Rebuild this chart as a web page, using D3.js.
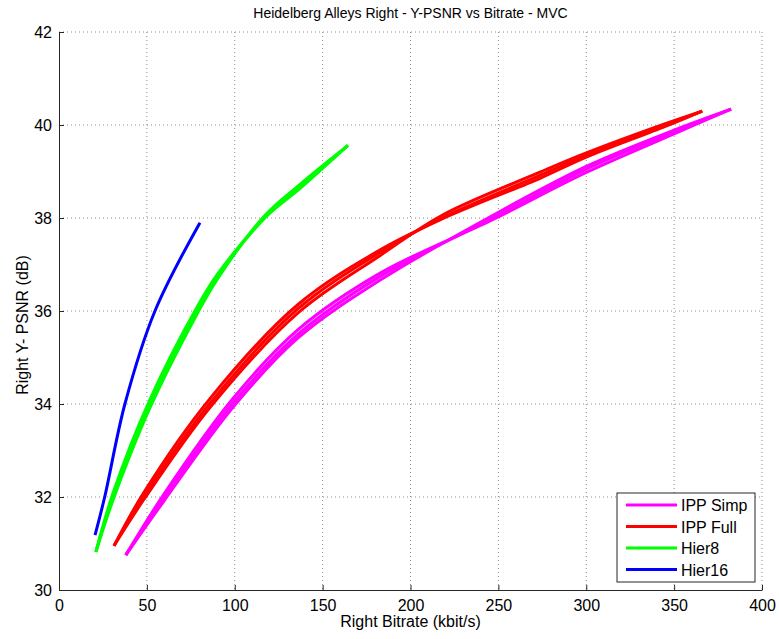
<!DOCTYPE html>
<html>
<head>
<meta charset="utf-8">
<script src="https://cdnjs.cloudflare.com/ajax/libs/d3/7.8.5/d3.min.js"></script>
<style>
  body { margin: 0; background: #fff; }
  text { font-family: "Liberation Sans", Arial, sans-serif; fill: #000; }
</style>
</head>
<body>
<svg class="chart" width="779" height="639"></svg>
<script>
// tick values
var xTicks = [0, 50, 100, 150, 200, 250, 300, 350, 400];
var yTicks = [30, 32, 34, 36, 38, 40, 42];

var seriesNames = ["IPP Simp", "IPP Full", "Hier8", "Hier16"];
var seriesColors = ["#ff00ff", "#ff0000", "#00ff00", "#0000ff"];

// bitrates (kbit/s) per series, and Y-PSNR (dB) of each run at those bitrates
var ippSimpRate = [38, 60, 99, 136, 183, 247, 300, 350, 382.4];
var ippSimpPsnr = [
  [30.75, 32.00, 34.02, 35.50, 36.75, 38.00, 39.05, 39.85, 40.34],
  [30.75, 32.08, 34.12, 35.60, 36.82, 37.97, 38.98, 39.81, 40.34],
  [30.75, 31.93, 33.93, 35.42, 36.67, 38.06, 39.11, 39.89, 40.34]
];
var ippFullRate = [31.3, 48, 86, 136, 183, 218, 274, 300, 345, 366];
var ippFullPsnr = [
  [30.95, 32.00, 34.02, 36.05, 37.27, 38.00, 38.92, 39.35, 40.00, 40.30],
  [30.95, 32.08, 34.12, 36.14, 37.32, 37.98, 38.86, 39.31, 39.97, 40.30],
  [30.95, 31.93, 33.93, 35.96, 37.20, 38.06, 38.99, 39.40, 40.03, 40.30]
];
var hier8Rate = [21, 30.7, 51.8, 78.5, 90, 117, 137, 164.4];
var hier8Psnr = [
  [30.82, 32.00, 34.00, 36.00, 36.73, 38.00, 38.67, 39.56],
  [30.82, 32.08, 34.10, 36.08, 36.78, 38.00, 38.63, 39.56],
  [30.82, 31.93, 33.92, 35.93, 36.68, 38.05, 38.72, 39.56]
];
var hier16Rate = [20.5, 26, 37.5, 54.6, 80.2];
var hier16Psnr = [
  [31.18, 32.00, 34.00, 36.00, 37.90]
];

var allRates = [ippSimpRate, ippFullRate, hier8Rate, hier16Rate];
var allPsnr = [ippSimpPsnr, ippFullPsnr, hier8Psnr, hier16Psnr];

var svg = d3.select(".chart");
var plotLeft = 59, plotRight = 762, plotTop = 32, plotBottom = 590;

var x = d3.scaleLinear().domain([0, 400]).range([plotLeft, plotRight]);
var y = d3.scaleLinear().domain([30, 42]).range([plotBottom, plotTop]);

// grid
svg.append("g")
  .selectAll("line")
  .data(xTicks.slice(1))
  .enter().append("line")
  .attr("x1", function (d) { return x(d); })
  .attr("x2", function (d) { return x(d); })
  .attr("y1", plotTop)
  .attr("y2", plotBottom)
  .attr("stroke", "#8c8c8c")
  .attr("stroke-dasharray", "1,3");

svg.append("g")
  .selectAll("line")
  .data(yTicks.slice(1))
  .enter().append("line")
  .attr("x1", plotLeft)
  .attr("x2", plotRight)
  .attr("y1", function (d) { return y(d); })
  .attr("y2", function (d) { return y(d); })
  .attr("stroke", "#8c8c8c")
  .attr("stroke-dasharray", "1,3");

// axes (ticks pointing inward, MATLAB style)
var xAxis = svg.append("g")
  .attr("transform", "translate(0," + plotBottom + ")")
  .call(d3.axisBottom(x).tickValues(xTicks).tickSizeInner(-5).tickSizeOuter(0).tickPadding(10));
var yAxis = svg.append("g")
  .attr("transform", "translate(" + plotLeft + ",0)")
  .call(d3.axisLeft(y).tickValues(yTicks).tickSizeInner(-5).tickSizeOuter(0).tickPadding(7));

[xAxis, yAxis].forEach(function (a) {
  a.select(".domain").attr("stroke", "#262626");
  a.selectAll(".tick line").attr("stroke", "#262626");
  a.selectAll(".tick text")
    .attr("font-family", "Liberation Sans, Arial, sans-serif")
    .attr("font-size", 16)
    .attr("fill", "#000");
});

// curves
var line = d3.line()
  .x(function (d) { return x(d[0]); })
  .y(function (d) { return y(d[1]); })
  .curve(d3.curveCatmullRom.alpha(0.5));

allPsnr.forEach(function (runs, i) {
  var rates = allRates[i];
  svg.append("g")
    .selectAll("path")
    .data(runs)
    .enter().append("path")
    .attr("d", function (run) {
      return line(run.map(function (p, k) { return [rates[k], p]; }));
    })
    .attr("fill", "none")
    .attr("stroke", seriesColors[i])
    .attr("stroke-width", 3);
});

// title and labels
svg.append("text")
  .attr("x", (plotLeft + plotRight) / 2)
  .attr("y", 18)
  .attr("text-anchor", "middle")
  .attr("font-size", 14)
  .text("Heidelberg Alleys Right - Y-PSNR vs Bitrate - MVC");

svg.append("text")
  .attr("x", (plotLeft + plotRight) / 2)
  .attr("y", 627)
  .attr("text-anchor", "middle")
  .attr("font-size", 16)
  .text("Right Bitrate (kbit/s)");

svg.append("text")
  .attr("transform", "translate(28,325) rotate(-90)")
  .attr("text-anchor", "middle")
  .attr("font-size", 16)
  .text("Right Y- PSNR (dB)");

// legend
var legend = svg.append("g");
legend.append("rect")
  .attr("x", 617)
  .attr("y", 493)
  .attr("width", 138)
  .attr("height", 89)
  .attr("fill", "#fff")
  .attr("stroke", "#262626");

var rows = legend.selectAll("g.row")
  .data(seriesNames)
  .enter().append("g")
  .attr("class", "row")
  .attr("transform", function (d, i) { return "translate(0," + (505 + i * 21.5) + ")"; });

rows.append("line")
  .attr("x1", 626)
  .attr("x2", 677)
  .attr("stroke", function (d, i) { return seriesColors[i]; })
  .attr("stroke-width", 3);

rows.append("text")
  .attr("x", 681)
  .attr("y", 6)
  .attr("font-size", 16)
  .text(function (d) { return d; });
</script>
</body>
</html>
